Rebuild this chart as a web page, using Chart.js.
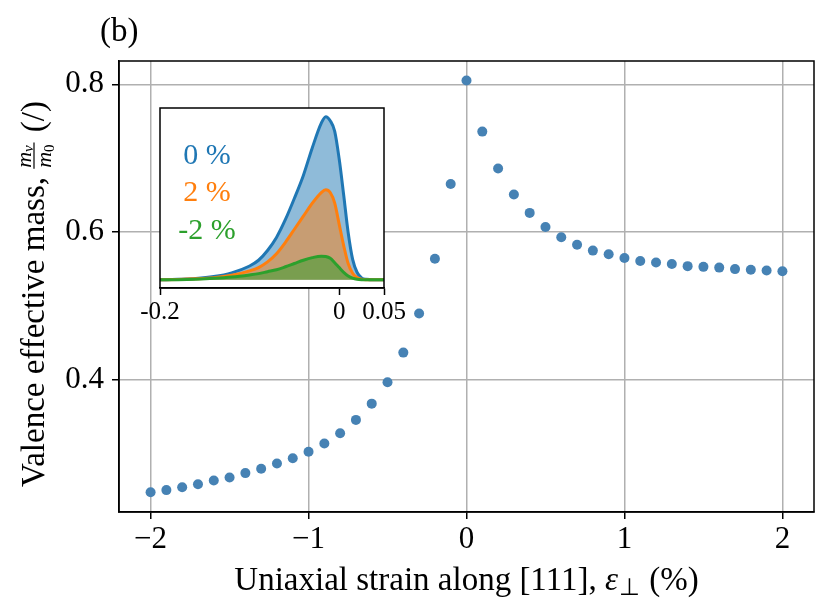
<!DOCTYPE html>
<html>
<head>
<meta charset="utf-8">
<script src="https://cdn.jsdelivr.net/npm/chart.js@4.4.1/dist/chart.umd.min.js"></script>
<style>
  html, body { margin: 0; padding: 0; background: #fff; }
  #wrap { position: relative; width: 831px; height: 615px; }
  #mainChart { position: absolute; left: 0; top: 0; }
  #insetChart { position: absolute; left: 130px; top: 98px; }
</style>
</head>
<body>
<div id="wrap">
  <canvas id="mainChart" width="831" height="615"></canvas>
  <canvas id="insetChart" width="290" height="230"></canvas>
</div>
<script>
// main panel: strain (%) vs valence effective mass
const strain = [-2.0, -1.9, -1.8, -1.7, -1.6, -1.5, -1.4, -1.3, -1.2, -1.1, -1.0,
  -0.9, -0.8, -0.7, -0.6, -0.5, -0.4, -0.3, -0.2, -0.1, 0.0,
  0.1, 0.2, 0.3, 0.4, 0.5, 0.6, 0.7, 0.8, 0.9, 1.0,
  1.1, 1.2, 1.3, 1.4, 1.5, 1.6, 1.7, 1.8, 1.9, 2.0];
const mass = [0.248, 0.251, 0.255, 0.259, 0.264, 0.268, 0.274, 0.280, 0.287, 0.294, 0.303,
  0.314, 0.328, 0.346, 0.368, 0.397, 0.437, 0.490, 0.564, 0.665, 0.805,
  0.736, 0.686, 0.651, 0.626, 0.607, 0.593, 0.583, 0.575, 0.570, 0.565,
  0.561, 0.559, 0.557, 0.554, 0.553, 0.552, 0.550, 0.549, 0.548, 0.547];
const xTicks = [-2, -1, 0, 1, 2];
const yTicks = [0.4, 0.6, 0.8];

// inset: curves for 0 %, 2 %, -2 %
const energy = [-0.2, -0.18, -0.16, -0.14, -0.12, -0.1, -0.09, -0.08, -0.07, -0.06, -0.05,
  -0.04, -0.03, -0.02, -0.015, -0.01, -0.005, 0, 0.005, 0.01, 0.015, 0.02, 0.025, 0.03, 0.04, 0.05];
const curve0 = [0, 0.003, 0.008, 0.02, 0.043, 0.085, 0.12, 0.18, 0.26, 0.37, 0.50,
  0.64, 0.81, 0.96, 1.0, 0.975, 0.91, 0.74, 0.52, 0.29, 0.125, 0.045, 0.012, 0.003, 0, 0];
const curvePlus2 = [0, 0.002, 0.006, 0.013, 0.028, 0.055, 0.075, 0.11, 0.16, 0.23, 0.31,
  0.39, 0.47, 0.535, 0.552, 0.535, 0.47, 0.34, 0.21, 0.10, 0.04, 0.014, 0.004, 0.001, 0, 0];
const curveMinus2 = [0, 0.001, 0.004, 0.009, 0.017, 0.03, 0.038, 0.05, 0.062, 0.08, 0.1,
  0.12, 0.136, 0.145, 0.143, 0.132, 0.105, 0.075, 0.046, 0.024, 0.011, 0.004, 0.001, 0, 0, 0];
const insetTicks = [-0.2, 0, 0.05];
const insetTickLabels = ['-0.2', '0', '0.05'];
const insetNames = ['0 %', '2 %', '-2 %'];

const serif = 'Liberation Serif';
const blue = '#1f77b4', orange = '#ff7f0e', green = '#2ca02c';

const framePlugin = {
  id: 'frame',
  beforeDraw(chart, args, opts) {
    if (!opts.fillArea) return;
    const a = chart.chartArea, ctx = chart.ctx;
    ctx.save();
    ctx.fillStyle = '#fff';
    ctx.fillRect(a.left, a.top, a.right - a.left, a.bottom - a.top);
    ctx.restore();
  },
  afterDraw(chart) {
    const a = chart.chartArea, ctx = chart.ctx;
    ctx.save();
    ctx.strokeStyle = '#000';
    ctx.lineWidth = 1.5;
    ctx.strokeRect(a.left, a.top, a.right - a.left, a.bottom - a.top);
    ctx.restore();
  }
};

const mainLabels = {
  id: 'mainLabels',
  afterDraw(chart) {
    const ctx = chart.ctx, a = chart.chartArea;
    ctx.save();
    ctx.fillStyle = '#000';
    ctx.textBaseline = 'alphabetic';
    ctx.textAlign = 'left';
    ctx.font = '33px "' + serif + '"';
    ctx.fillText('(b)', 100, 41);
    ctx.restore();

    // x label with italic epsilon
    ctx.save();
    ctx.fillStyle = '#000';
    ctx.textAlign = 'left';
    const p1 = 'Uniaxial strain along [111], ';
    const p3 = ' (%)';
    ctx.font = '33px "' + serif + '"';
    const w1 = ctx.measureText(p1).width;
    const w3 = ctx.measureText(p3).width;
    ctx.font = 'italic 33px "' + serif + '"';
    const we = ctx.measureText('\u03b5').width;
    ctx.font = '24px "' + serif + '"';
    const wp = ctx.measureText('\u22a5').width;
    const total = w1 + we + wp + 2 + w3;
    let x = (a.left + a.right) / 2 - total / 2;
    const base = 590;
    ctx.font = '33px "' + serif + '"';
    ctx.fillText(p1, x, base); x += w1;
    ctx.font = 'italic 33px "' + serif + '"';
    ctx.fillText('\u03b5', x, base); x += we + 1;
    ctx.font = '24px "' + serif + '"';
    ctx.fillText('\u22a5', x, base + 5); x += wp + 1;
    ctx.font = '33px "' + serif + '"';
    ctx.fillText(p3, x, base);
    ctx.restore();

    // y label, rotated, with a small fraction m_v / m_0
    ctx.save();
    ctx.fillStyle = '#000';
    ctx.strokeStyle = '#000';
    ctx.translate(44, 487);
    ctx.rotate(-Math.PI / 2);
    ctx.textAlign = 'left';
    ctx.textBaseline = 'alphabetic';
    ctx.font = '33px "' + serif + '"';
    const t1 = 'Valence effective mass, ';
    const tw1 = ctx.measureText(t1).width;
    ctx.fillText(t1, 0, 0);
    let u = tw1;
    ctx.font = 'italic 22px "' + serif + '"';
    const wm = ctx.measureText('m').width;
    ctx.font = 'italic 15px "' + serif + '"';
    const wv = ctx.measureText('v').width;
    ctx.font = '15px "' + serif + '"';
    const w0 = ctx.measureText('0').width;
    const fw = wm + Math.max(wv, w0) + 1;
    const bar = -10;
    ctx.font = 'italic 22px "' + serif + '"';
    ctx.fillText('m', u + 1, bar - 3);
    ctx.fillText('m', u + 1, bar + 17);
    ctx.font = 'italic 15px "' + serif + '"';
    ctx.fillText('v', u + 1 + wm, bar - 1);
    ctx.font = '15px "' + serif + '"';
    ctx.fillText('0', u + 1 + wm, bar + 20);
    ctx.lineWidth = 1.2;
    ctx.beginPath();
    ctx.moveTo(u, bar);
    ctx.lineTo(u + fw + 2, bar);
    ctx.stroke();
    u += fw + 4;
    ctx.font = '33px "' + serif + '"';
    ctx.fillText(' (/)', u, 0);
    ctx.restore();
  }
};

new Chart(document.getElementById('mainChart'), {
  type: 'scatter',
  data: {
    datasets: [{
      data: strain.map((s, i) => ({ x: s, y: mass[i] })),
      backgroundColor: '#4682b4',
      borderWidth: 0,
      pointRadius: 5,
      pointHoverRadius: 5
    }]
  },
  options: {
    responsive: false,
    animation: false,
    events: [],
    layout: { padding: { left: 0, top: 61, right: 17, bottom: 0 } },
    plugins: { legend: { display: false }, tooltip: { enabled: false }, frame: { fillArea: false } },
    scales: {
      x: {
        type: 'linear',
        min: -2.2,
        max: 2.2,
        afterBuildTicks: s => { s.ticks = xTicks.map(v => ({ value: v })); },
        afterFit: s => { s.height = 103; },
        ticks: {
          callback: v => (v < 0 ? '\u2212' + Math.abs(v) : String(v)),
          font: { family: serif, size: 31 },
          color: '#000',
          padding: 2,
          maxRotation: 0
        },
        grid: { color: '#b0b0b0', lineWidth: 1.5, tickLength: 7, tickColor: '#000', tickWidth: 1.5 },
        border: { display: true, color: '#000', width: 1.5 }
      },
      y: {
        type: 'linear',
        min: 0.2214,
        max: 0.8315,
        afterBuildTicks: s => { s.ticks = yTicks.map(v => ({ value: v })); },
        afterFit: s => { s.width = 119; },
        ticks: {
          callback: v => v.toFixed(1),
          font: { family: serif, size: 31 },
          color: '#000',
          padding: 8
        },
        grid: { color: '#b0b0b0', lineWidth: 1.5, tickLength: 7, tickColor: '#000', tickWidth: 1.5 },
        border: { display: true, color: '#000', width: 1.5 }
      }
    }
  },
  plugins: [framePlugin, mainLabels]
});

const insetText = {
  id: 'insetText',
  afterDraw(chart) {
    const ctx = chart.ctx;
    ctx.save();
    ctx.font = '30px "' + serif + '"';
    ctx.textAlign = 'center';
    ctx.textBaseline = 'alphabetic';
    const cols = [blue, orange, green];
    const ys = [66, 103, 141];
    insetNames.forEach((t, i) => {
      ctx.fillStyle = cols[i];
      ctx.fillText(t, 77, ys[i]);
    });
    ctx.restore();
  }
};

const toPts = arr => energy.map((e, i) => ({ x: e, y: arr[i] }));

new Chart(document.getElementById('insetChart'), {
  type: 'line',
  data: {
    datasets: [
      { data: toPts(curve0), borderColor: blue, backgroundColor: 'rgba(31,119,180,0.5)', order: 3 },
      { data: toPts(curvePlus2), borderColor: orange, backgroundColor: 'rgba(255,127,14,0.5)', order: 2 },
      { data: toPts(curveMinus2), borderColor: green, backgroundColor: 'rgba(44,160,44,0.5)', order: 1 }
    ].map(d => Object.assign(d, {
      fill: 'origin',
      borderWidth: 3,
      pointRadius: 0,
      cubicInterpolationMode: 'monotone'
    }))
  },
  options: {
    responsive: false,
    animation: false,
    events: [],
    layout: { padding: { left: 30, top: 10, right: 36, bottom: 0 } },
    plugins: { legend: { display: false }, tooltip: { enabled: false }, frame: { fillArea: true } },
    scales: {
      x: {
        type: 'linear',
        min: -0.2,
        max: 0.05,
        afterBuildTicks: s => { s.ticks = insetTicks.map(v => ({ value: v })); },
        afterFit: s => { s.height = 40; },
        ticks: {
          callback: (v, i) => insetTickLabels[i],
          font: { family: serif, size: 25 },
          color: '#000',
          padding: 2,
          maxRotation: 0,
          autoSkip: false
        },
        grid: { drawOnChartArea: false, tickLength: 7, tickColor: '#000', tickWidth: 1.5 },
        border: { display: true, color: '#000', width: 1.5 }
      },
      y: {
        display: false,
        min: -0.05,
        max: 1.053
      }
    }
  },
  plugins: [framePlugin, insetText]
});
</script>
</body>
</html>
